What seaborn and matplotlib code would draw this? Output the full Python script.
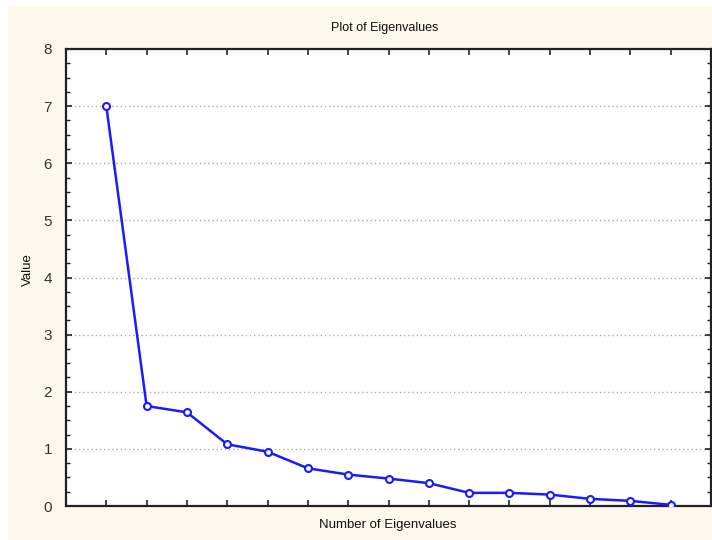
import matplotlib
matplotlib.use("Agg")
import matplotlib.pyplot as plt
from matplotlib.patches import Rectangle
from matplotlib.ticker import MultipleLocator, NullFormatter
import numpy as np
import pandas as pd
import seaborn as sns

# eigenvalues
eigen_number = list(range(1, 16))
eigen_values = [7.0, 1.75, 1.64, 1.08, 0.95, 0.66, 0.55, 0.48, 0.40,
                0.23, 0.23, 0.20, 0.125, 0.09, 0.02]
title_text = "Plot of Eigenvalues"
x_label = "Number of Eigenvalues"
y_label = "Value"

df = pd.DataFrame({"n": eigen_number, "value": eigen_values})

sns.set_style("white")
plt.rcParams["font.family"] = ["Liberation Sans", "DejaVu Sans"]

bg = "#fdf8ec"
fig = plt.figure(figsize=(7.12, 5.40), dpi=100, facecolor=bg)
# thin white strip at the top and left edge of the screenshot
fig.patches.append(Rectangle((0, 0.988), 1, 0.012, transform=fig.transFigure,
                             facecolor="white", edgecolor="none", zorder=-1))
fig.patches.append(Rectangle((0, 0), 0.011, 1, transform=fig.transFigure,
                             facecolor="white", edgecolor="none", zorder=-1))

ax = fig.add_axes([66 / 712, 34 / 540, 645 / 712, 457 / 540])
ax.set_facecolor("white")

sns.lineplot(data=df, x="n", y="value", ax=ax, color="#1a1aff", linewidth=1.8,
             marker="o", markersize=5, markerfacecolor="white",
             markeredgecolor="#1a1aff", markeredgewidth=1.5, zorder=3)

ax.set_xlim(0, 16)
ax.set_ylim(0, 8)
ax.xaxis.set_major_locator(MultipleLocator(1))
ax.xaxis.set_major_formatter(NullFormatter())
ax.yaxis.set_major_locator(MultipleLocator(1))
ax.yaxis.set_minor_locator(MultipleLocator(0.25))

ax.tick_params(axis="both", which="major", direction="in", length=4, width=1.2,
               color="#222222", top=True, right=True, bottom=True, left=True)
ax.tick_params(axis="y", which="minor", direction="in", length=3, width=1.0,
               color="#222222", left=True, right=True)
ax.tick_params(axis="y", labelsize=11, labelcolor="#333333", pad=10)

ax.grid(axis="y", which="major", linestyle=(0, (1, 2)), color="#aaaaaa", linewidth=1)
ax.set_axisbelow(True)

for side, sp in ax.spines.items():
    sp.set_visible(True)
    sp.set_color("#222222")
    sp.set_linewidth(1.6)

ax.set_xlabel("")
ax.set_ylabel("")
fig.text(385 / 712, 1 - 28 / 540, title_text, ha="center", va="center",
         fontsize=9, color="#111111")
fig.text(388 / 712, 1 - 525 / 540, x_label, ha="center", va="center",
         fontsize=9.5, color="#111111")
fig.text(28 / 712, 1 - 270 / 540, y_label, ha="center", va="center",
         rotation=90, fontsize=9.5, color="#111111")

fig.savefig("out.png", dpi=100, facecolor=bg)
